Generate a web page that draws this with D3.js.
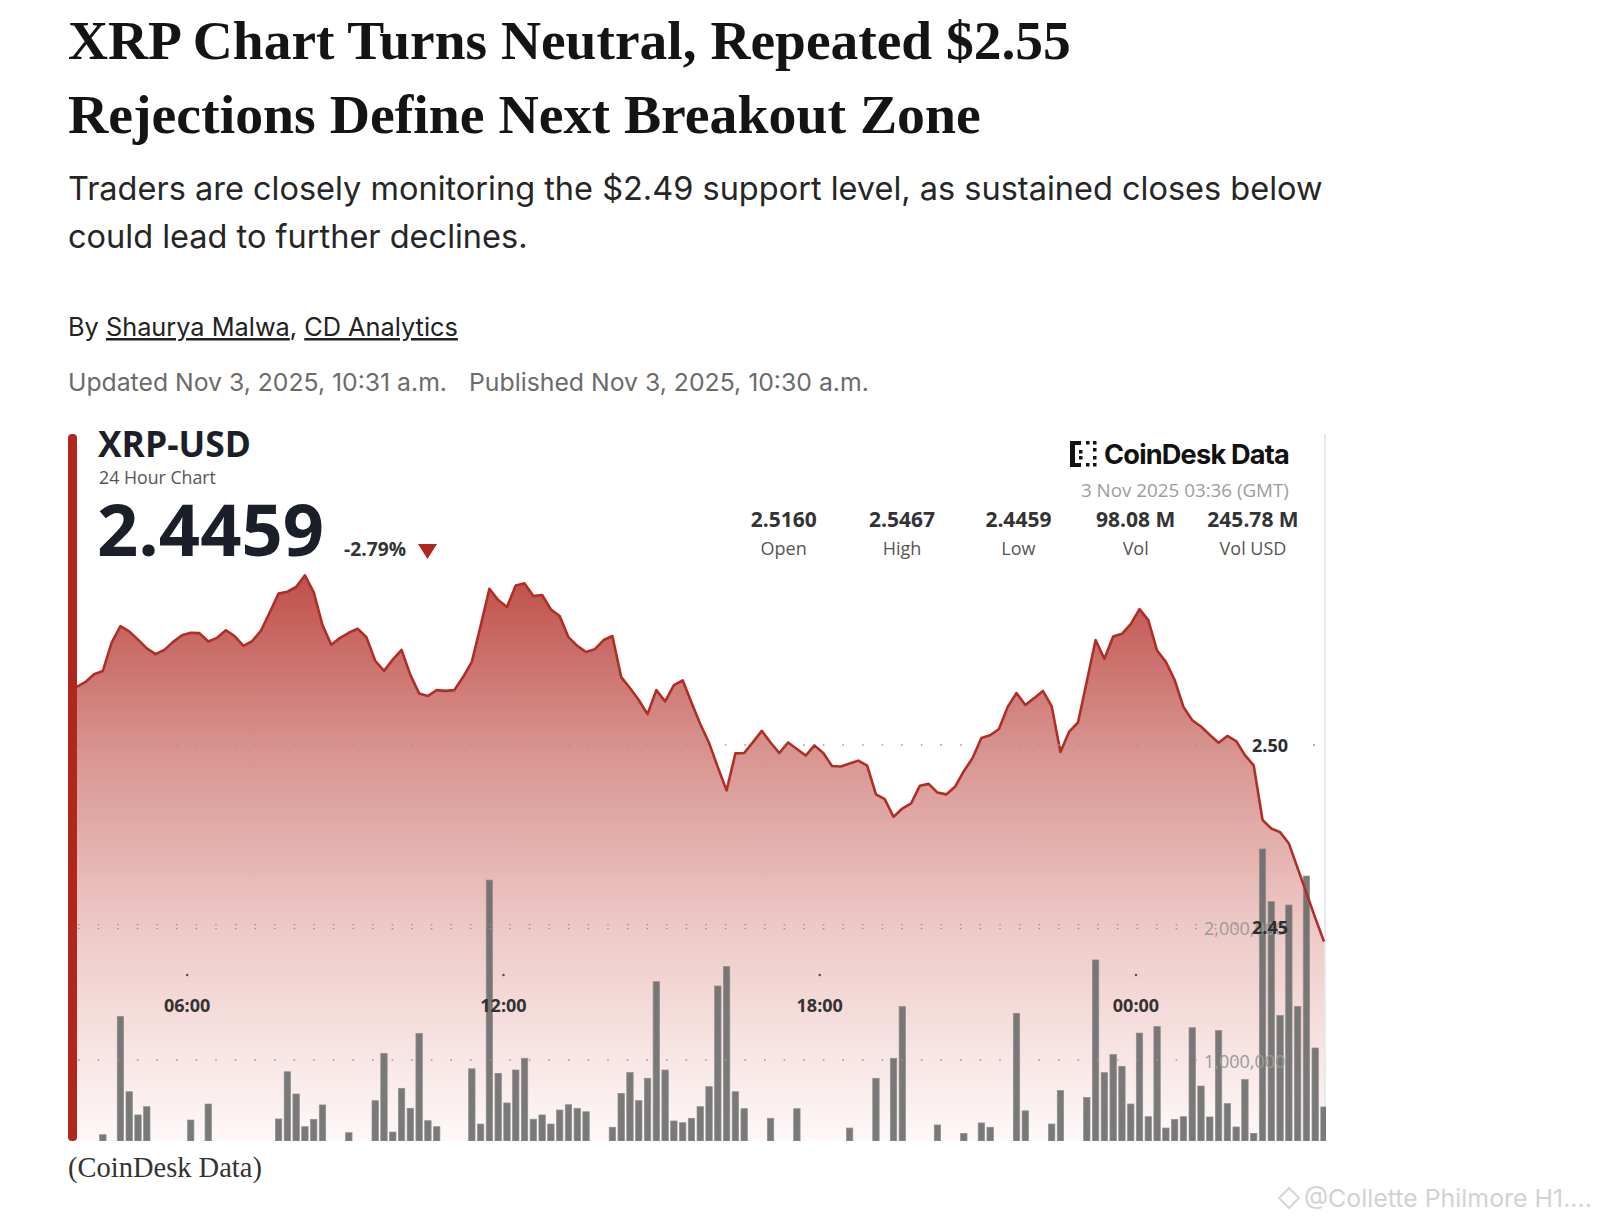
<!DOCTYPE html>
<html>
<head>
<meta charset="utf-8">
<title>XRP Chart</title>
<script src="https://d3js.org/d3.v7.min.js"></script>
<style>
  body { margin: 0; background: #fff; }
</style>
</head>
<body>
<script>
var W = 1600, H = 1226;

// ---- data ----
var startTime = new Date(2025, 10, 2, 3, 54);   // first 10-minute sample
var stepMinutes = 10;

var prices = [
  2.5160, 2.5173, 2.5195, 2.5204, 2.5282, 2.5327, 2.5313, 2.5290, 2.5266, 2.5250,
  2.5262, 2.5284, 2.5302, 2.5309, 2.5308, 2.5285, 2.5295, 2.5316, 2.5300, 2.5273,
  2.5286, 2.5315, 2.5365, 2.5417, 2.5422, 2.5435, 2.5467, 2.5421, 2.5330, 2.5276,
  2.5295, 2.5309, 2.5320, 2.5297, 2.5232, 2.5204, 2.5235, 2.5262, 2.5193, 2.5142,
  2.5135, 2.5151, 2.5149, 2.5151, 2.5187, 2.5229, 2.5328, 2.5430, 2.5399, 2.5380,
  2.5439, 2.5445, 2.5410, 2.5413, 2.5373, 2.5355, 2.5297, 2.5273, 2.5256, 2.5264,
  2.5289, 2.5300, 2.5187, 2.5157, 2.5124, 2.5085, 2.5151, 2.5120, 2.5165, 2.5178,
  2.5117, 2.5058, 2.5006, 2.4939, 2.4875, 2.4977, 2.4978, 2.5008, 2.5039, 2.5007,
  2.4978, 2.5007, 2.4989, 2.4971, 2.4999, 2.4978, 2.4942, 2.4941, 2.4949, 2.4957,
  2.4943, 2.4864, 2.4851, 2.4802, 2.4825, 2.4839, 2.4888, 2.4893, 2.4869, 2.4864,
  2.4885, 2.4928, 2.4964, 2.5019, 2.5027, 2.5044, 2.5105, 2.5143, 2.5110, 2.5129,
  2.5149, 2.5107, 2.4981, 2.5037, 2.5062, 2.5175, 2.5289, 2.5237, 2.5299, 2.5306,
  2.5333, 2.5374, 2.5344, 2.5260, 2.5229, 2.5179, 2.5105, 2.5068, 2.5051, 2.5028,
  2.5006, 2.5025, 2.5011, 2.4972, 2.4944, 2.4794, 2.4770, 2.4760, 2.4729, 2.4661,
  2.4593, 2.4524, 2.4459
];

// volume per 10 minutes, in millions (0 = below the visible floor)
var volumes = [
  0, 0, 0, 0.44, 0, 1.326, 0.762, 0.588, 0.650, 0,
  0, 0, 0, 0.550, 0, 0.670, 0, 0, 0, 0,
  0, 0, 0, 0.558, 0.912, 0.745, 0.500, 0.555, 0.663, 0,
  0, 0.455, 0, 0, 0.695, 1.050, 0.46, 0.788, 0.638, 1.200,
  0.545, 0.500, 0, 0, 0, 0.934, 0.520, 2.349, 0.900, 0.678,
  0.925, 1.013, 0.556, 0.588, 0.520, 0.625, 0.665, 0.638, 0.612, 0,
  0, 0.496, 0.750, 0.906, 0.695, 0.863, 1.587, 0.925, 0.543, 0.530,
  0.563, 0.650, 0.800, 1.555, 1.701, 0.762, 0.635, 0, 0, 0.563,
  0, 0, 0.635, 0, 0, 0, 0, 0, 0.490, 0,
  0, 0.863, 0, 1.013, 1.400, 0, 0, 0, 0.513, 0,
  0, 0.45, 0, 0.528, 0.496, 0, 0, 1.350, 0.619, 0,
  0, 0.520, 0.771, 0, 0, 0.719, 1.750, 0.905, 1.041, 0.953,
  0.670, 1.202, 0.575, 1.251, 0.490, 0.554, 0.575, 1.242, 0.805, 0.573,
  1.221, 0.673, 0.498, 0.853, 0.45, 2.582, 2.187, 1.334, 2.162, 1.402,
  2.379, 1.090, 0.648
];

var timeTicks = [new Date(2025, 10, 2, 6), new Date(2025, 10, 2, 12),
                 new Date(2025, 10, 2, 18), new Date(2025, 10, 3, 0)];
var priceTicks = [2.50, 2.45];
var volumeTicks = [2000000, 1000000];
var statValues = ["2.5160", "2.5467", "2.4459", "98.08 M", "245.78 M"];
var statLabels = ["Open", "High", "Low", "Vol", "Vol USD"];
var lastPrice = "2.4459";
var changePct = "-2.79%";

var times = prices.map(function(d, i) {
  return d3.timeMinute.offset(startTime, i * stepMinutes);
});

// ---- page ----
var svg = d3.select("body").append("svg")
    .attr("width", W).attr("height", H)
    .style("display", "block");

// shrink/grow a text so it spans a given width
function fit(sel, target) {
  var w = sel.node().getComputedTextLength();
  var fs = parseFloat(sel.attr("font-size"));
  sel.attr("font-size", (fs * target / w).toFixed(2));
  return sel;
}

var serif = "'Liberation Serif', 'DejaVu Serif', serif";
var sans = "Inter, 'Noto Sans', sans-serif";
var chartFont = "'Open Sans', 'Noto Sans', sans-serif";

// headline
fit(svg.append("text").attr("x", 68).attr("y", 59)
    .attr("font-family", serif).attr("font-weight", 700).attr("font-size", 54)
    .attr("fill", "#141414").text("XRP Chart Turns Neutral, Repeated $2.55"), 1003);
fit(svg.append("text").attr("x", 68).attr("y", 133)
    .attr("font-family", serif).attr("font-weight", 700).attr("font-size", 54)
    .attr("fill", "#141414").text("Rejections Define Next Breakout Zone"), 913);

// dek
var dek1 = fit(svg.append("text").attr("x", 68).attr("y", 200)
    .attr("font-family", sans).attr("font-size", 32).attr("fill", "#262626")
    .text("Traders are closely monitoring the $2.49 support level, as sustained closes below"), 1255);
svg.append("text").attr("x", 68).attr("y", 248)
    .attr("font-family", sans).attr("font-size", dek1.attr("font-size")).attr("fill", "#262626")
    .text("could lead to further declines.");

// byline
var by = svg.append("text").attr("x", 68).attr("y", 336)
    .attr("font-family", sans).attr("font-size", 24).attr("fill", "#222");
by.append("tspan").text("By ");
by.append("tspan").attr("text-decoration", "underline").text("Shaurya Malwa");
by.append("tspan").text(", ");
by.append("tspan").attr("text-decoration", "underline").text("CD Analytics");
fit(by, 390);

fit(svg.append("text").attr("x", 68).attr("y", 391)
    .attr("font-family", sans).attr("font-size", 24).attr("fill", "#6b6b6b")
    .text("Updated Nov 3, 2025, 10:31 a.m."), 379);
fit(svg.append("text").attr("x", 469).attr("y", 391)
    .attr("font-family", sans).attr("font-size", 24).attr("fill", "#6b6b6b")
    .text("Published Nov 3, 2025, 10:30 a.m."), 400);

// ---- chart ----
var plotLeft = 76.5, plotRight = 1324, plotTop = 434, plotBottom = 1141;

var x = d3.scaleTime().domain([times[0], times[times.length - 1]]).range([plotLeft, plotRight]);
var y = d3.scaleLinear().domain([2.45, 2.50]).range([926.6, 745]);
var yv = d3.scaleLinear().domain([1000000, 2000000]).range([1060, 926.6]);

var defs = svg.append("defs");
var grad = defs.append("linearGradient").attr("id", "fillGrad")
    .attr("gradientUnits", "userSpaceOnUse")
    .attr("x1", 0).attr("x2", 0).attr("y1", 575).attr("y2", plotBottom);
grad.append("stop").attr("offset", "0").attr("stop-color", "#c0504a");
grad.append("stop").attr("offset", "0.30").attr("stop-color", "#d7928e");
grad.append("stop").attr("offset", "0.62").attr("stop-color", "#edc9c6");
grad.append("stop").attr("offset", "1").attr("stop-color", "#fef8f8");

defs.append("clipPath").attr("id", "plotClip")
  .append("rect").attr("x", plotLeft).attr("y", plotTop)
    .attr("width", plotRight - plotLeft + 2).attr("height", plotBottom - plotTop);

// card edges
svg.append("line").attr("x1", 1325).attr("x2", 1325).attr("y1", plotTop).attr("y2", plotBottom)
    .attr("stroke", "#e2e2e2").attr("stroke-width", 1.5);

var plot = svg.append("g").attr("clip-path", "url(#plotClip)");

plot.append("path").datum(prices)
    .attr("fill", "url(#fillGrad)")
    .attr("d", d3.area()
        .x(function(d, i) { return x(times[i]); })
        .y0(plotBottom)
        .y1(function(d) { return y(d); }));

// grid rows
var dots = "1.6 18";
svg.append("line").attr("x1", 78).attr("x2", 1246)
    .attr("y1", y(2.50)).attr("y2", y(2.50))
    .attr("stroke", "#9a9a9a").attr("stroke-width", 1.4).attr("stroke-dasharray", dots);
svg.append("circle").attr("cx", 1314).attr("cy", y(2.50)).attr("r", 0.9).attr("fill", "#888");
[-2, 2].forEach(function(o) {
  svg.append("line").attr("x1", 78).attr("x2", 1246)
      .attr("y1", y(2.45) + o).attr("y2", y(2.45) + o)
      .attr("stroke", "#b48a88").attr("stroke-width", 1.3).attr("stroke-dasharray", dots);
});
svg.append("line").attr("x1", 78).attr("x2", 1246)
    .attr("y1", yv(1000000)).attr("y2", yv(1000000))
    .attr("stroke", "#a09a9a").attr("stroke-width", 1.4).attr("stroke-dasharray", dots);

// time labels (under the bars)
var tfmt = d3.timeFormat("%H:%M");
svg.selectAll("text.tick").data(timeTicks).enter().append("text")
    .attr("class", "tick")
    .attr("x", function(d) { return x(d); })
    .attr("y", 1012)
    .attr("text-anchor", "middle")
    .attr("font-family", chartFont).attr("font-weight", 700).attr("font-size", 18)
    .attr("fill", "#333").text(tfmt);
svg.selectAll("circle.tickdot").data(timeTicks).enter().append("circle")
    .attr("class", "tickdot")
    .attr("cx", function(d) { return x(d); }).attr("cy", 975)
    .attr("r", 1.3).attr("fill", "#555");

// volume labels
var vfmt = d3.format(",");
svg.selectAll("text.vol").data(volumeTicks).enter().append("text")
    .attr("class", "vol")
    .attr("x", 1204).attr("y", function(d) { return yv(d) + 8; })
    .attr("font-family", chartFont).attr("font-size", 18).attr("fill", "#9a9a9a")
    .text(vfmt);

// volume bars
var bw = 6.4;
var barData = volumes.map(function(v, i) { return { v: v * 1e6, t: times[i] }; })
    .filter(function(d) { return d.v > 0 && yv(d.v) < plotBottom; });
plot.selectAll("rect.bar").data(barData)
  .enter().append("rect").attr("class", "bar")
    .attr("x", function(d) { return x(d.t) - bw / 2; })
    .attr("y", function(d) { return yv(d.v); })
    .attr("width", bw)
    .attr("height", function(d) { return plotBottom - yv(d.v); })
    .attr("fill", "#686868").attr("fill-opacity", 0.88)
    .attr("stroke", "#8f8f8f").attr("stroke-width", 0.7);

// price line
plot.append("path").datum(prices)
    .attr("fill", "none")
    .attr("stroke", "#b12e27").attr("stroke-width", 2.6)
    .attr("stroke-linejoin", "round")
    .attr("d", d3.line()
        .x(function(d, i) { return x(times[i]); })
        .y(function(d) { return y(d); }));

// red accent edge of the card
svg.append("rect").attr("x", 68).attr("y", plotTop).attr("width", 9).attr("height", plotBottom - plotTop)
    .attr("rx", 4).attr("fill", "#b0271c");

// price labels (over the bars)
svg.selectAll("text.price").data(priceTicks).enter().append("text")
    .attr("class", "price")
    .attr("x", 1252).attr("y", function(d) { return y(d) + 7; })
    .attr("font-family", chartFont).attr("font-weight", 700).attr("font-size", 18)
    .attr("fill", "#2c2c2c").text(d3.format(".2f"));

// chart header
fit(svg.append("text").attr("x", 98).attr("y", 457)
    .attr("font-family", chartFont).attr("font-weight", 700).attr("font-size", 36)
    .attr("fill", "#1b1f2a").text("XRP-USD"), 153);
fit(svg.append("text").attr("x", 99).attr("y", 484)
    .attr("font-family", chartFont).attr("font-size", 17)
    .attr("fill", "#555").text("24 Hour Chart"), 117);
fit(svg.append("text").attr("x", 97).attr("y", 556)
    .attr("font-family", chartFont).attr("font-weight", 700).attr("font-size", 68)
    .attr("fill", "#1b1f2a").text(lastPrice), 227);
fit(svg.append("text").attr("x", 344).attr("y", 556)
    .attr("font-family", chartFont).attr("font-weight", 700).attr("font-size", 17)
    .attr("fill", "#333").text(changePct), 62);
svg.append("path").attr("d", "M418,544 L437,544 L427.5,559 Z").attr("fill", "#b0271c");

// logo
var logo = svg.append("g").attr("fill", "#111");
logo.append("rect").attr("x", 1070).attr("y", 441).attr("width", 5).attr("height", 26);
logo.append("rect").attr("x", 1070).attr("y", 441).attr("width", 11).attr("height", 4);
logo.append("rect").attr("x", 1070).attr("y", 463).attr("width", 11).attr("height", 4);
[[1079, 450], [1079, 456], [1086, 441], [1093, 441], [1093, 448], [1093, 456], [1093, 463], [1086, 463]]
  .forEach(function(p) {
    logo.append("rect").attr("x", p[0]).attr("y", p[1]).attr("width", 3.5).attr("height", 3.5);
  });
fit(svg.append("text").attr("x", 1104).attr("y", 464)
    .attr("font-family", "Inter, Roboto, sans-serif").attr("font-weight", 700).attr("font-size", 27)
    .attr("letter-spacing", -0.8)
    .attr("fill", "#111").text("CoinDesk Data"), 185);
fit(svg.append("text").attr("x", 1081).attr("y", 497)
    .attr("font-family", chartFont).attr("font-size", 18)
    .attr("fill", "#9c9c9c").text("3 Nov 2025 03:36 (GMT)"), 208);

var statX = [783.7, 902, 1018.4, 1135.7, 1253];
svg.selectAll("text.sv").data(statValues).enter().append("text")
    .attr("class", "sv")
    .attr("x", function(d, i) { return statX[i]; }).attr("y", 527)
    .attr("text-anchor", "middle")
    .attr("font-family", chartFont).attr("font-weight", 700).attr("font-size", 21)
    .attr("fill", "#333").text(function(d) { return d; });
svg.selectAll("text.sl").data(statLabels).enter().append("text")
    .attr("class", "sl")
    .attr("x", function(d, i) { return statX[i]; }).attr("y", 555)
    .attr("text-anchor", "middle")
    .attr("font-family", chartFont).attr("font-size", 18)
    .attr("fill", "#555").text(function(d) { return d; });

// caption
fit(svg.append("text").attr("x", 68).attr("y", 1177)
    .attr("font-family", serif).attr("font-size", 26)
    .attr("fill", "#333").text("(CoinDesk Data)"), 194);

// watermark
svg.append("path").attr("d", "M1289,1188 L1299,1198 L1289,1208 L1279,1198 Z")
    .attr("fill", "none").attr("stroke", "#d6d6d6").attr("stroke-width", 2);
fit(svg.append("text").attr("x", 1304).attr("y", 1207)
    .attr("font-family", sans).attr("font-size", 23)
    .attr("fill", "#d2d2d2").text("@Collette Philmore H1...."), 288);
</script>
</body>
</html>
